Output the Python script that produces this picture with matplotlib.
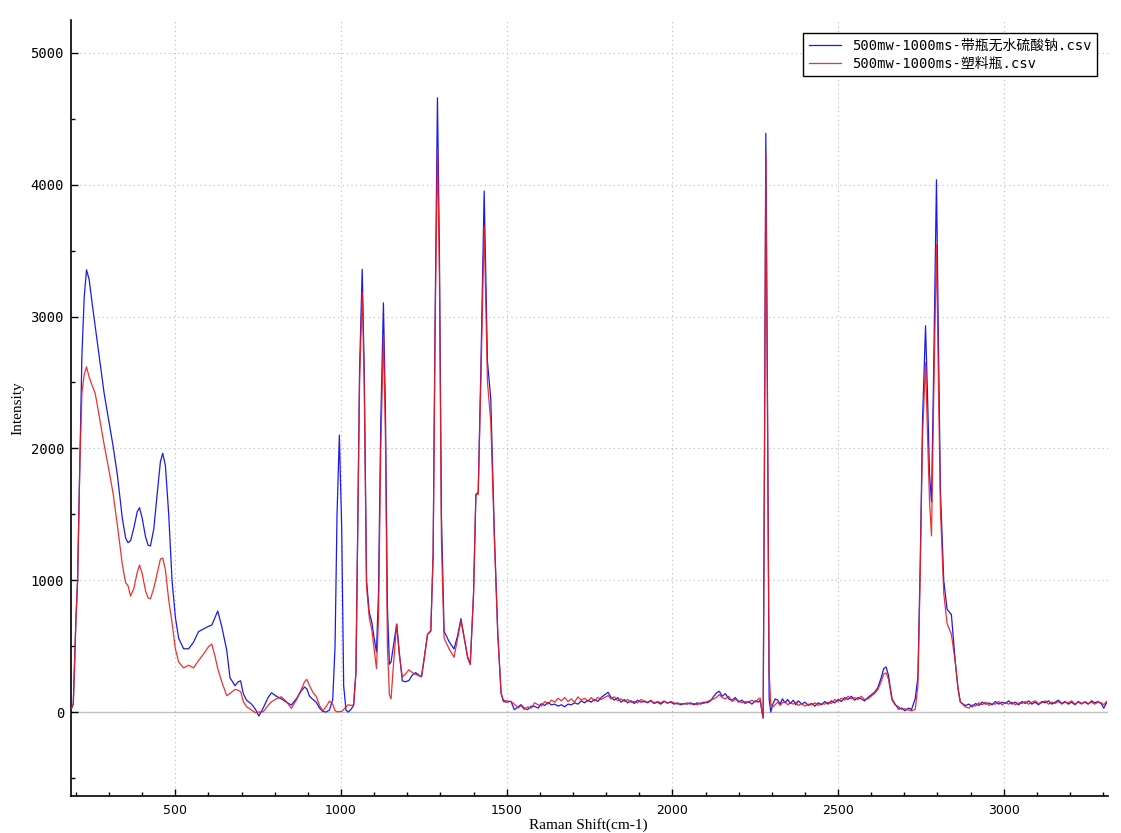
import matplotlib
matplotlib.use("Agg")
import matplotlib.pyplot as plt
from matplotlib.ticker import MultipleLocator

# Raman spectra, common wavenumber grid (cm-1)
raman_shift = [
    187, 192, 200, 205, 212, 218, 225, 232, 240, 250,
    258, 270, 285, 300, 312, 325, 340, 350, 357, 365,
    375, 385, 392, 400, 410, 418, 425, 435, 445, 455,
    462, 470, 480, 490, 500, 510, 525, 540, 555, 570,
    585, 600, 610, 620, 628, 640, 655, 665, 680, 690,
    697, 705, 715, 730, 742, 752, 765, 780, 790, 805,
    820, 835, 850, 865, 880, 890, 897, 905, 915, 925,
    935, 945, 955, 965, 975, 982, 988, 995, 1002, 1008,
    1015, 1022, 1030, 1038, 1045, 1050, 1056, 1064, 1070, 1077,
    1085, 1093, 1100, 1107, 1113, 1120, 1128, 1134, 1140, 1146,
    1151, 1158, 1168, 1176, 1185, 1195, 1205, 1215, 1225, 1235,
    1243, 1252, 1261, 1271, 1278, 1284, 1291, 1297, 1303, 1311,
    1326, 1341, 1352, 1362, 1372, 1382, 1390, 1400, 1407, 1414,
    1422, 1432, 1442, 1452, 1463, 1473, 1483, 1490, 1500, 1513,
    1523, 1535, 1543, 1553, 1563, 1575, 1584, 1595, 1604, 1615,
    1624, 1635, 1645, 1655, 1665, 1675, 1685, 1695, 1705, 1715,
    1725, 1735, 1745, 1755, 1765, 1775, 1785, 1795, 1806, 1815,
    1825, 1835, 1845, 1855, 1865, 1875, 1885, 1895, 1905, 1915,
    1925, 1935, 1945, 1955, 1965, 1975, 1985, 1995, 2005, 2015,
    2025, 2035, 2045, 2055, 2065, 2075, 2085, 2095, 2105, 2115,
    2125, 2135, 2142, 2150, 2160, 2170, 2180, 2190, 2200, 2210,
    2220, 2230, 2240, 2250, 2260, 2265, 2270, 2274, 2278, 2282,
    2287, 2292, 2297, 2303, 2310, 2318, 2325, 2332, 2340, 2348,
    2356, 2365, 2372, 2380, 2390, 2400, 2410, 2420, 2430, 2440,
    2450, 2460, 2470, 2480, 2490, 2500, 2510, 2520, 2530, 2540,
    2550, 2560, 2570, 2580, 2590, 2600, 2610, 2620, 2630, 2638,
    2645, 2652, 2663, 2672, 2683, 2692, 2702, 2713, 2722, 2733,
    2741, 2748, 2755, 2764, 2770, 2776, 2782, 2788, 2797, 2803,
    2809, 2819, 2829, 2842, 2854, 2862, 2869, 2884, 2895, 2905,
    2915, 2925, 2935, 2945, 2955, 2965, 2975, 2985, 2995, 3005,
    3015, 3025, 3035, 3045, 3055, 3065, 3075, 3085, 3095, 3105,
    3115, 3125, 3135, 3145, 3155, 3165, 3175, 3185, 3195, 3205,
    3215, 3225, 3235, 3245, 3255, 3265, 3275, 3285, 3295, 3302, 3310,
]

with_na2so4 = [
    30, 60, 700, 1000, 1900, 2700, 3150, 3355, 3280, 3080,
    2930, 2700, 2420, 2200, 2020, 1800, 1470, 1320, 1285, 1300,
    1400, 1520, 1550, 1470, 1330, 1265, 1260, 1390, 1650, 1900,
    1963, 1870, 1500, 1000, 720, 560, 480, 480, 530, 610,
    630, 650, 660, 720, 766, 650, 470, 260, 200, 230,
    237, 140, 90, 60, 20, -30, 30, 110, 146, 120,
    100, 75, 53, 100, 160, 190, 175, 120, 95, 75,
    30, 5, 0, 15, 95, 500, 1500, 2100, 1400, 200,
    15, 0, 20, 50, 300, 1300, 2600, 3358, 2600, 1000,
    760, 680, 560, 456, 900, 2200, 3104, 2300, 800, 362,
    380, 500, 667, 450, 236, 230, 240, 280, 299, 280,
    267, 420, 588, 613, 1200, 3000, 4660, 3500, 1500, 613,
    535, 478, 580, 708, 560, 420, 362, 900, 1650, 1667,
    2594, 3953, 2657, 2374, 1336, 600, 144, 81, 75, 81,
    18, 40, 56, 30, 18, 45, 43, 30, 63, 50,
    73, 55, 60, 45, 55, 40, 60, 55, 70, 60,
    85, 70, 90, 75, 95, 80, 110, 130, 150, 110,
    90, 110, 75, 95, 70, 85, 65, 90, 75, 80,
    70, 85, 65, 75, 60, 80, 70, 75, 60, 70,
    55, 65, 60, 70, 55, 70, 60, 75, 70, 85,
    120, 150, 157, 120, 140, 100, 90, 110, 75, 90,
    65, 80, 60, 85, 75, 90, 10, -45, 2000, 4390,
    2400, 100, 0, 60, 100, 90, 60, 100, 70, 95,
    65, 90, 55, 85, 60, 75, 50, 65, 45, 70,
    55, 80, 60, 85, 70, 95, 80, 110, 95, 120,
    90, 110, 100, 85, 110, 130, 150, 184, 260, 330,
    342, 280, 100, 60, 22, 30, 10, 30, 20, 103,
    266, 1133, 2217, 2930, 2400, 1800, 1593, 2500, 4038, 2800,
    1675, 997, 780, 740, 374, 180, 76, 49, 60, 40,
    65, 50, 75, 60, 70, 55, 80, 60, 75, 65,
    85, 60, 75, 55, 80, 65, 85, 60, 75, 55,
    80, 70, 85, 60, 75, 90, 65, 80, 60, 75,
    55, 80, 65, 75, 60, 85, 70, 80, 60, 30, 70,
]

plastic_bottle = [
    30, 60, 700, 1000, 1900, 2420, 2560, 2618, 2540, 2470,
    2420, 2250, 2030, 1830, 1660, 1420, 1120, 980, 960, 880,
    940, 1060, 1115, 1050, 920, 865, 860, 940, 1050, 1160,
    1168, 1080, 850, 680, 480, 380, 335, 355, 335, 390,
    440, 495, 516, 420, 330, 230, 125, 140, 172, 165,
    155, 80, 40, 15, -5, 0, 2, 50, 78, 100,
    116, 80, 28, 90, 170, 230, 248, 200, 150, 120,
    50, 10, 40, 83, 60, 10, 2, 3, 5, 20,
    40, 56, 50, 56, 300, 1300, 2500, 3182, 2500, 950,
    720, 620, 480, 330, 700, 2000, 2862, 2100, 500, 130,
    100, 350, 667, 430, 267, 290, 320, 300, 285, 275,
    270, 430, 590, 620, 1200, 2900, 4277, 3300, 1300, 560,
    480, 415, 560, 692, 560, 410, 362, 900, 1650, 1650,
    2500, 3686, 2500, 2200, 1300, 600, 144, 90, 85, 80,
    60, 30, 50, 20, 40, 30, 70, 55, 45, 80,
    60, 90, 75, 105, 85, 110, 80, 100, 75, 115,
    90, 105, 80, 110, 85, 110, 95, 110, 125, 100,
    115, 85, 100, 80, 95, 75, 80, 70, 95, 85,
    75, 90, 70, 80, 70, 85, 65, 80, 70, 60,
    65, 60, 70, 60, 65, 55, 70, 65, 80, 90,
    100, 115, 132, 110, 100, 120, 80, 95, 85, 70,
    80, 75, 90, 75, 100, 106, 10, -45, 1900, 4230,
    2300, 300, 60, 40, 55, 75, 50, 70, 80, 55,
    70, 60, 75, 50, 65, 45, 60, 55, 70, 50,
    65, 60, 75, 65, 95, 80, 105, 90, 120, 100,
    110, 95, 120, 95, 100, 120, 140, 170, 230, 290,
    296, 250, 90, 55, 40, 20, 25, 15, 10, 20,
    200, 1050, 2100, 2650, 2100, 1600, 1336, 2300, 3545, 2500,
    1539, 900, 672, 590, 374, 180, 76, 40, 30, 55,
    45, 70, 55, 75, 50, 65, 60, 80, 55, 70,
    60, 75, 55, 70, 65, 80, 60, 75, 85, 65,
    70, 85, 60, 75, 65, 80, 60, 75, 70, 85,
    60, 75, 60, 80, 65, 75, 60, 75, 70, 55, 80,
]

series_names = ["500mw-1000ms-带瓶无水硫酸钠.csv", "500mw-1000ms-塑料瓶.csv"]

assert len(raman_shift) == len(with_na2so4) == len(plastic_bottle)

fig = plt.figure(figsize=(11.21, 8.33), dpi=100)
ax = fig.add_axes([0.0633, 0.0444, 0.9252, 0.9316])

ax.axhline(0, color="#c4c4c4", lw=1.0, zorder=1)
ax.plot(raman_shift, with_na2so4, color="#1a1aee", lw=0.9, label=series_names[0], zorder=3)
ax.plot(raman_shift, plastic_bottle, color="#ee1a1a", lw=0.9, alpha=0.9, label=series_names[1], zorder=4)

ax.set_xlim(185, 3315)
ax.set_ylim(-637, 5250)
ax.xaxis.set_major_locator(MultipleLocator(500))
ax.xaxis.set_minor_locator(MultipleLocator(100))
ax.yaxis.set_major_locator(MultipleLocator(1000))
ax.yaxis.set_minor_locator(MultipleLocator(500))
ax.grid(True, which="major", ls=(0, (1, 3)), color="#b8b8b8", lw=0.8)

for side in ["top", "right"]:
    ax.spines[side].set_visible(False)
for side in ["left", "bottom"]:
    ax.spines[side].set_linewidth(1.2)

ax.tick_params(which="both", direction="in")
ax.tick_params(which="major", length=5, width=1)
ax.tick_params(which="minor", length=3, width=1)
ax.tick_params(axis="y", pad=5)
ax.tick_params(axis="x", pad=6)
for t in ax.get_yticklabels():
    t.set_family("DejaVu Sans Mono")
    t.set_fontsize(10)
for t in ax.get_xticklabels():
    t.set_family("DejaVu Sans")
    t.set_fontsize(9)

ax.set_xlabel("Raman Shift(cm-1)", family="Liberation Serif", fontsize=11)
ax.set_ylabel("Intensity", family="Liberation Serif", fontsize=11)
ax.xaxis.set_label_coords(0.4986, -0.029)
ax.yaxis.set_label_coords(-0.045, 0.5)

leg = ax.legend(loc="upper right", bbox_to_anchor=(0.9894, 0.9832), borderaxespad=0,
                fancybox=False, framealpha=1, edgecolor="black",
                prop={"family": ["DejaVu Sans Mono", "Noto Sans CJK SC"], "size": 10},
                handlelength=2.3, labelspacing=0.3, borderpad=0.4)
leg.get_frame().set_linewidth(1.0)

fig.savefig("out.png", dpi=100)
